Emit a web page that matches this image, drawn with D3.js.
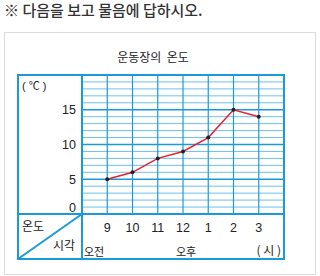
<!DOCTYPE html>
<html>
<head>
<meta charset="utf-8">
<script src="https://cdn.jsdelivr.net/npm/d3@7"></script>
<style>
  body { margin: 0; background: #fff; }
  text { font-family: Arial, "Liberation Sans", "Noto Sans CJK KR", sans-serif; fill: #222; white-space: pre; }
  .kr { font-family: "Noto Sans CJK KR", sans-serif; }
</style>
</head>
<body>
<svg width="320" height="276"></svg>
<script>
  var hours = ['9', '10', '11', '12', '1', '2', '3']
  var temps = [5, 6, 8, 9, 11, 15, 14]
  var yTicks = [0, 5, 10, 15]

  var tLeft = 18, tMid = 82, tRight = 284
  var tTop = 75, tBase = 214, tBottom = 259
  var major = '#1a9ad8', minor = '#6cc2ea'

  var svg = d3.select('svg')

  // header line and outer gray box
  svg.append('text').attr('class', 'kr')
    .attr('x', 4).attr('y', 16)
    .attr('font-size', 15).attr('font-weight', 500).style('fill', '#333')
    .text('※ 다음을 보고 물음에 답하시오.')

  svg.append('rect')
    .attr('x', 4.5).attr('y', 32.5).attr('width', 311).attr('height', 242)
    .attr('fill', 'none').attr('stroke', '#dcdcdc')

  svg.append('text').attr('class', 'kr')
    .attr('x', 153).attr('y', 62).attr('text-anchor', 'middle')
    .attr('font-size', 12).text('운동장의  온도')

  var x = d3.scaleLinear().domain([0, hours.length + 1]).range([tMid, tRight])
  var y = d3.scaleLinear().domain([0, 20]).range([tBase, tTop])

  // horizontal grid
  svg.append('g').selectAll('line')
    .data(d3.range(1, 20))
    .enter().append('line')
    .attr('x1', tMid).attr('x2', tRight)
    .attr('y1', function(d) { return y(d) })
    .attr('y2', function(d) { return y(d) })
    .attr('stroke', function(d) { return d % 5 == 0 ? major : minor })
    .attr('stroke-width', function(d) { return d % 5 == 0 ? 1.3 : 1 })

  // vertical grid
  svg.append('g').selectAll('line')
    .data(hours)
    .enter().append('line')
    .attr('x1', function(d, i) { return x(i + 1) })
    .attr('x2', function(d, i) { return x(i + 1) })
    .attr('y1', tTop).attr('y2', tBase)
    .attr('stroke', major).attr('stroke-width', 1.2)

  // table frame
  var frame = svg.append('g').attr('stroke', major).attr('fill', 'none').attr('stroke-width', 2)
  frame.append('rect').attr('x', tLeft).attr('y', tTop).attr('width', tRight - tLeft).attr('height', tBottom - tTop)
  frame.append('line').attr('x1', tMid).attr('x2', tMid).attr('y1', tTop).attr('y2', tBottom)
  frame.append('line').attr('x1', tLeft).attr('x2', tRight).attr('y1', tBase).attr('y2', tBase)
  frame.append('line').attr('x1', tMid).attr('y1', tBase).attr('x2', tLeft).attr('y2', tBottom)

  // y labels
  svg.append('g').selectAll('text')
    .data(yTicks)
    .enter().append('text')
    .attr('x', 76).attr('text-anchor', 'end')
    .attr('y', function(d) { return d == 0 ? y(d) - 2 : y(d) + 4.5 })
    .attr('font-size', 12.5)
    .text(function(d) { return d })

  svg.append('text').attr('x', 22).attr('y', 90).attr('font-size', 11).text('( ℃ )')

  // x labels
  svg.append('g').selectAll('text')
    .data(hours)
    .enter().append('text')
    .attr('x', function(d, i) { return x(i + 1) })
    .attr('y', 231.5).attr('text-anchor', 'middle')
    .attr('font-size', 12.5)
    .text(function(d) { return d })

  svg.append('text').attr('class', 'kr').attr('x', 22).attr('y', 231).attr('font-size', 12).text('온도')
  svg.append('text').attr('class', 'kr').attr('x', 53).attr('y', 250).attr('font-size', 12).text('시각')
  svg.append('text').attr('class', 'kr').attr('x', 84).attr('y', 256).attr('font-size', 11).text('오전')
  svg.append('text').attr('class', 'kr').attr('x', 186).attr('y', 256).attr('text-anchor', 'middle').attr('font-size', 11).text('오후')
  svg.append('text').attr('class', 'kr').attr('x', 281).attr('y', 255).attr('text-anchor', 'end').attr('font-size', 12).text('( 시 )')

  // data line
  var line = d3.line()
    .x(function(d, i) { return x(i + 1) })
    .y(function(d) { return y(d) })

  svg.append('path').datum(temps)
    .attr('d', line)
    .attr('fill', 'none').attr('stroke', '#e8202e').attr('stroke-width', 1.5)

  svg.append('g').selectAll('circle')
    .data(temps)
    .enter().append('circle')
    .attr('cx', function(d, i) { return x(i + 1) })
    .attr('cy', function(d) { return y(d) })
    .attr('r', 2)
    .attr('fill', '#222')
</script>
</body>
</html>
